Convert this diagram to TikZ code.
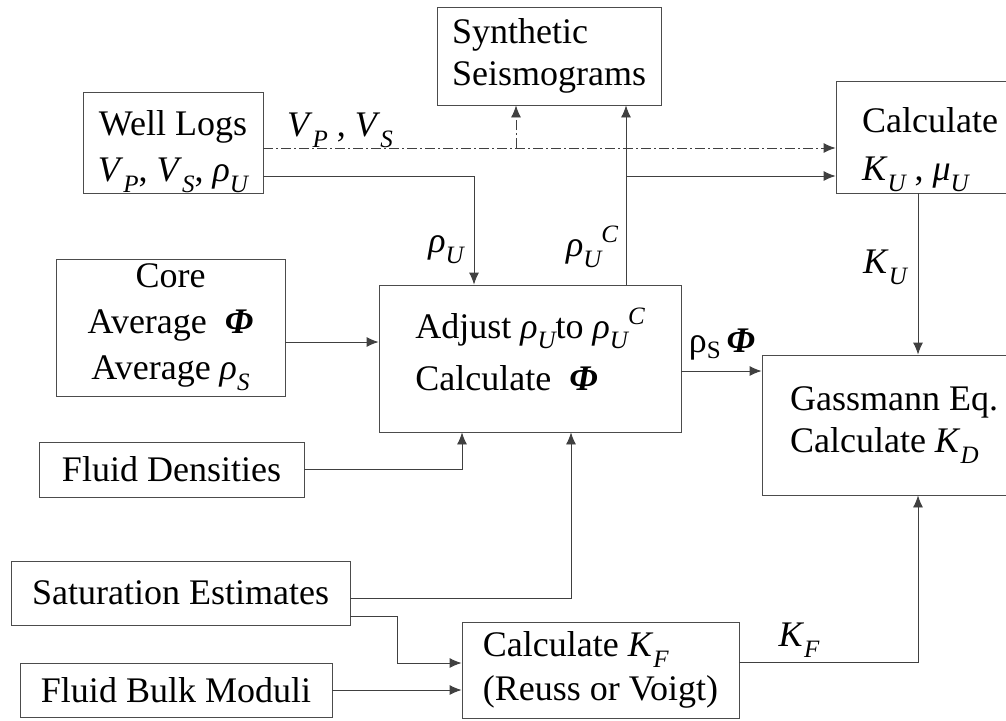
\documentclass[tikz,border=0pt]{standalone}
\usepackage{fontspec}
\setmainfont{Liberation Serif}
\usetikzlibrary{arrows.meta}

\newcommand{\subidx}[1]{\raisebox{-0.3em}{\fontsize{25}{25}\selectfont\itshape #1}}
\newcommand{\supidx}[1]{\raisebox{0.38em}{\fontsize{25}{25}\selectfont\itshape #1}}
\newcommand{\bphi}{\textbf{\textit{Φ}}}

\tikzset{
  box/.style={draw=black!70, line width=0.9pt, inner sep=0pt, align=left,
    font=\fontsize{36}{46}\selectfont},
  lbl/.style={inner sep=0pt, font=\fontsize{36}{44}\selectfont},
  flow/.style={draw=black!75, line width=0.9pt, ->},
  dashdot/.style={dash pattern=on 10pt off 3pt on 2pt off 3pt}
}

\begin{document}
\begin{tikzpicture}[x=1pt, y=-1pt, >={Latex[length=12pt,width=10pt]}]

  \useasboundingbox (0,0) rectangle (1006,720);
  \clip (0,0) rectangle (1006,720);

  % Draw the boxes
  \node[box, minimum width=224, minimum height=98] (synth) at (549,56) {Synthetic\\[-4pt]Seismograms};
  \node[box, minimum width=180, minimum height=101, align=center] (well) at (173,142.5)
    {\rule{0pt}{44pt}Well Logs\\[0pt] \textit{V}\subidx{P}, \textit{V}\subidx{S}, \textit{ρ}\subidx{U}};
  \node[box, minimum width=188, minimum height=112] (calcu) at (930,137)
    {\rule{0pt}{50pt}Calculate\\[2pt] \textit{K}\subidx{U} , \textit{μ}\subidx{U}};
  \node[box, minimum width=229, minimum height=137, align=center] (core) at (170.5,327.5)
    {Core\\ Average \ \bphi\\ Average \textit{ρ}\subidx{S}};
  \node[box, minimum width=302, minimum height=147] (adjust) at (530,358.5)
    {Adjust \textit{ρ}\subidx{U}to \textit{ρ}\subidx{U}\supidx{C}\\[6pt] Calculate \ \bphi\\[-27pt]\mbox{}};
  \node[box, minimum width=264, minimum height=140] (gass) at (894,425)
    {Gassmann Eq.\\[-4pt] Calculate \textit{K}\subidx{D}};
  \node[box, minimum width=265, minimum height=55] (dens) at (171.5,469.5) {Fluid Densities};
  \node[box, minimum width=339, minimum height=64] (satur) at (180.5,593) {Saturation Estimates};
  \node[box, minimum width=312, minimum height=54] (bulk) at (176,690) {Fluid Bulk Moduli};
  \node[box, minimum width=277, minimum height=96] (calcf) at (600.5,670)
    {Calculate \textit{K}\subidx{F}\\[-2pt] (Reuss or Voigt)};

  % Points where the lines leave or enter the boxes
  \coordinate (vpvs) at ([yshift=-5.5pt]well.east);
  \coordinate (rhou) at ([yshift=-33.5pt]well.east);
  \coordinate (sbr) at ([xshift=-33pt]synth.south);
  \coordinate (adjin) at ([xshift=-56pt]adjust.north);
  \coordinate (adjout) at ([xshift=96pt]adjust.north);
  \coordinate (ku) at ([xshift=-12pt]calcu.south);
  \coordinate (dsin) at ([xshift=-68pt]adjust.south);
  \coordinate (ssin) at ([xshift=41pt]adjust.south);
  \coordinate (sat1) at ([yshift=-5pt]satur.east);
  \coordinate (sat2) at ([yshift=-23pt]satur.east);
  \coordinate (kfin) at ([yshift=7pt]calcf.west);
  \coordinate (kf) at ([yshift=8pt]calcf.east);

  % Velocities (dash-dot)
  \draw[flow, dashdot] (vpvs) -- (vpvs -| calcu.west);
  \draw[flow, dashdot] (sbr |- vpvs) -- (sbr);

  % Densities
  \draw[flow] (rhou) -| (adjin);
  \draw[flow] (adjout) -- (adjout |- synth.south);
  \draw[flow] (adjout |- rhou) -- (rhou -| calcu.west);

  % Into the adjust box
  \draw[flow] ([yshift=-14.5pt]core.east) -- ([yshift=-14.5pt]core.east -| adjust.west);
  \draw[flow] (dens.east) -| (dsin);
  \draw[flow] (sat1) -| (ssin);

  % Into Gassmann
  \draw[flow] ([yshift=-12.5pt]adjust.east) -- ([yshift=-12.5pt]adjust.east -| gass.west);
  \draw[flow] (ku) -- (ku |- gass.north);
  \draw[flow] (kf) -| (ku |- gass.south);

  % Fluid moduli
  \draw[flow] (sat2) -- ++(47,0) |- (kfin);
  \draw[flow] (bulk.east) -- (bulk.east -| calcf.west);

  % Labels
  \node[lbl] (lvpvs) at (340,130) {\textit{V}\subidx{P} , \textit{V}\subidx{S}};
  \node[lbl] (lrhou) at (446,250) {\textit{ρ}\subidx{U}};
  \node[lbl] (lrhoc) at (592,247) {\textit{ρ}\subidx{U}\supidx{C}};
  \node[lbl] (lku) at (885,267) {\textit{K}\subidx{U}};
  \node[lbl] (lrphi) at (722,345) {ρ\raisebox{-0.15em}{\fontsize{25}{25}\selectfont S}\,\bphi};
  \node[lbl] (lkf) at (799,640) {\textit{K}\subidx{F}};

\end{tikzpicture}
\end{document}
